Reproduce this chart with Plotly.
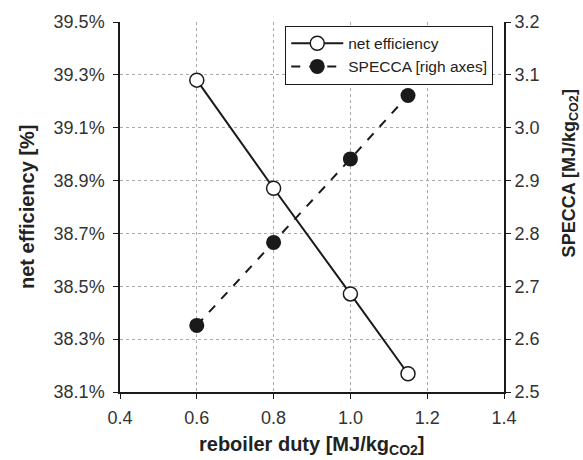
import plotly.graph_objects as go

reboiler_duty = [0.6, 0.8, 1.0, 1.15]
net_efficiency = [39.28, 38.871, 38.471, 38.169]
specca = [2.626, 2.783, 2.941, 3.061]

x_ticks = [0.4, 0.6, 0.8, 1.0, 1.2, 1.4]
y1_ticks = [38.1, 38.3, 38.5, 38.7, 38.9, 39.1, 39.3, 39.5]
y1_labels = ["38.1%", "38.3%", "38.5%", "38.7%", "38.9%", "39.1%", "39.3%", "39.5%"]
y2_ticks = [2.5, 2.6, 2.7, 2.8, 2.9, 3.0, 3.1, 3.2]

FONT = "Liberation Sans, Arial, sans-serif"
TXT = "#222"

fig = go.Figure()
fig.add_trace(go.Scatter(
    x=reboiler_duty, y=net_efficiency, name="net efficiency",
    mode="lines+markers",
    line=dict(color="#1a1a1a", width=2),
    marker=dict(symbol="circle", size=14, color="white", line=dict(color="#1a1a1a", width=1.5)),
))
fig.add_trace(go.Scatter(
    x=reboiler_duty, y=specca, name="SPECCA [righ axes]",
    mode="lines+markers", yaxis="y2",
    line=dict(color="#1a1a1a", width=2, dash="dash"),
    marker=dict(symbol="circle", size=15, color="#1a1a1a"),
))

fig.update_layout(
    width=583, height=460,
    margin=dict(l=120, r=79, t=18, b=68),
    plot_bgcolor="white", paper_bgcolor="white",
    font=dict(family=FONT, color=TXT, size=18),
    showlegend=True,
    legend=dict(x=0.972, y=0.99, xanchor="right", yanchor="top",
                bgcolor="white", bordercolor="#1a1a1a", borderwidth=1,
                font=dict(size=15.5, family=FONT, color=TXT),
                itemwidth=52, tracegroupgap=0),
    xaxis=dict(
        range=[0.4, 1.4], tickvals=x_ticks, tickformat=".1f",
        showline=True, linecolor="#1a1a1a", linewidth=2,
        ticks="outside", ticklen=5, tickcolor="#1a1a1a",
        showgrid=True, gridcolor="#aaa", griddash="dot", gridwidth=1,
        zeroline=False, ticklabelstandoff=3,
        tickfont=dict(size=18, color="#333"),
    ),
    yaxis=dict(
        range=[38.1, 39.5], tickvals=y1_ticks, ticktext=y1_labels,
        showline=True, linecolor="#1a1a1a", linewidth=1.5,
        ticks="outside", ticklen=5, tickcolor="#1a1a1a",
        showgrid=True, gridcolor="#aaa", griddash="dot", gridwidth=1,
        zeroline=False, ticklabelstandoff=5,
        tickfont=dict(size=18, color="#333"),
    ),
    yaxis2=dict(
        range=[2.5, 3.2], tickvals=y2_ticks, tickformat=".1f",
        overlaying="y", side="right",
        showline=True, linecolor="#1a1a1a", linewidth=2,
        ticks="outside", ticklen=5, tickcolor="#1a1a1a",
        showgrid=False, zeroline=False,
        tickfont=dict(size=18, color="#333"),
    ),
    annotations=[
        dict(text="<b>net efficiency [%]</b>", textangle=-90, xref="paper", yref="paper",
             x=-0.2422, y=0.5, xanchor="center", yanchor="middle", showarrow=False,
             font=dict(size=20, color=TXT, family=FONT)),
        dict(text="<b>SPECCA [MJ/kg<sub>CO2</sub>]</b>", textangle=-90, xref="paper", yref="paper",
             x=1.172, y=0.591, xanchor="center", yanchor="middle", showarrow=False,
             font=dict(size=18, color=TXT, family=FONT)),
        dict(text="<b>reboiler duty [MJ/kg<sub>CO2</sub>]</b>", xref="paper", yref="paper",
             x=0.5, y=-0.1444, xanchor="center", yanchor="middle", showarrow=False,
             font=dict(size=20, color=TXT, family=FONT)),
    ],
)

fig.write_html("out.html")
